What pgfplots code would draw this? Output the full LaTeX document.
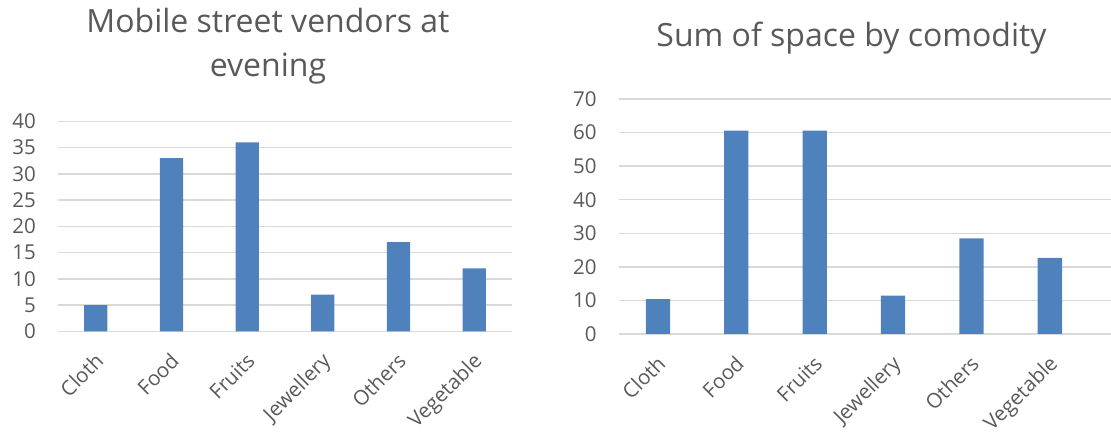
\documentclass[border=0pt]{standalone}
\usepackage{pgfplots}
\pgfplotsset{compat=1.18}
\usepackage{fontspec}
\setmainfont{Open Sans}

\definecolor{barblue}{HTML}{4F81BD}
\definecolor{gridgray}{HTML}{D9D9D9}
\definecolor{txtgray}{HTML}{595959}

\pgfplotsset{
  commoditybars/.style={
    scale only axis,
    anchor=south west,
    ybar,
    ymin=0,
    xmin=-0.5,
    xtick={0,...,5},
    xticklabels={Cloth,Food,Fruits,Jewellery,Others,Vegetable},
    axis line style={draw=none},
    major tick length=0pt,
    ymajorgrids,
    grid style={gridgray, line width=1.5pt},
    tick label style={font=\fontsize{20.5}{24}\selectfont, text=txtgray},
    /pgf/number format/assume math mode=true,
    yticklabel style={anchor=east, inner sep=0pt, xshift=-22pt},
    xticklabel style={xshift=9pt, yshift=-31pt, anchor=base east, inner sep=0pt, rotate=45},
    clip=false,
  },
}
\tikzset{titletext/.style={anchor=base, font=\fontsize{32}{38}\selectfont, text=txtgray}}

\begin{document}
\begin{tikzpicture}
\useasboundingbox (0,0) rectangle (1111pt,433pt);

% Vendors counted in the evening
\node[titletext] at (268pt,400pt) {Mobile street vendors at};
\node[titletext] at (268pt,356pt) {evening};
\begin{axis}[commoditybars,
  at={(58pt,101.7pt)}, width=454pt, height=210pt,
  xmax=5.5, ymax=40, ytick={0,5,...,40},
  bar width=23.3pt]
  \addplot[fill=barblue, draw=none] coordinates
    {(0,5) (1,33) (2,36) (3,7) (4,17) (5,12)};
\end{axis}

% Total space per commodity
\node[titletext] at (851.5pt,386pt) {Sum of space by comodity};
\begin{axis}[commoditybars,
  at={(618.7pt,99pt)}, width=492.3pt, height=235pt,
  xmax=5.78, ymax=70, ytick={0,10,...,70},
  bar width=24.3pt]
  \addplot[fill=barblue, draw=none] coordinates
    {(0,10.4) (1,60.6) (2,60.6) (3,11.4) (4,28.5) (5,22.7)};
\end{axis}
\end{tikzpicture}
\end{document}
